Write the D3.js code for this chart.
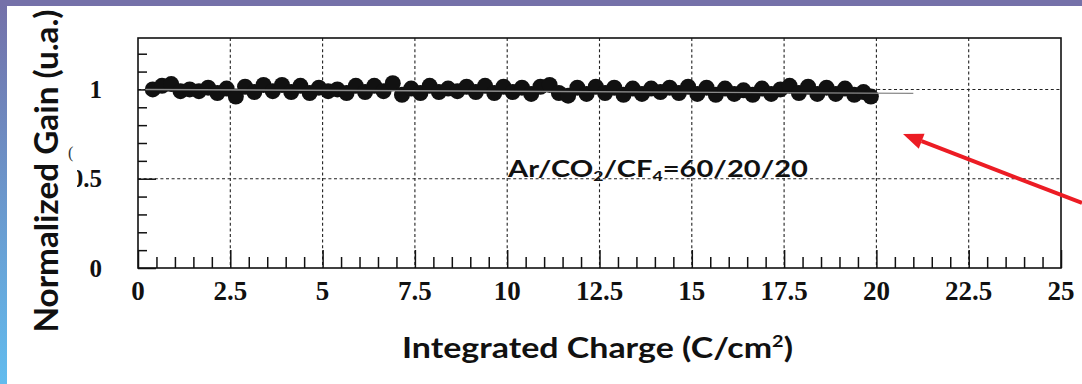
<!DOCTYPE html>
<html>
<head>
<meta charset="utf-8">
<script src="https://cdn.jsdelivr.net/npm/d3@7"></script>
<style>
  html, body { margin: 0; padding: 0; background: #fff; }
  svg { display: block; }
</style>
</head>
<body>
<svg id="chart" width="1082" height="384"></svg>
<script>
// Gain stability vs. accumulated charge, Ar/CO2/CF4 = 60/20/20
const charge = [0.4,0.65,0.9,1.15,1.4,1.65,1.9,2.15,2.4,2.65,2.9,3.15,3.4,3.65,3.9,4.15,4.4,4.65,4.9,5.15,
  5.4,5.65,5.9,6.15,6.4,6.65,6.9,7.15,7.4,7.65,7.9,8.15,8.4,8.65,8.9,9.15,9.4,9.65,9.9,10.15,
  10.4,10.65,10.9,11.15,11.4,11.65,11.9,12.15,12.4,12.65,12.9,13.15,13.4,13.65,13.9,14.15,14.4,14.65,14.9,15.15,
  15.4,15.65,15.9,16.15,16.4,16.65,16.9,17.15,17.4,17.65,17.9,18.15,18.4,18.65,18.9,19.15,19.4,19.65,19.85];
const gain = [1.00,1.02,1.03,0.99,1.00,0.99,1.01,0.98,1.005,0.96,1.015,0.985,1.025,0.99,1.025,0.985,1.02,0.98,1.01,0.99,
  1.00,0.98,1.02,0.985,1.02,0.99,1.035,0.97,1.005,0.98,1.02,0.985,1.005,0.99,1.015,0.985,1.02,0.98,1.015,0.985,
  1.01,0.975,1.015,1.025,0.98,0.965,1.01,0.975,1.015,0.98,1.01,0.97,1.005,0.975,1.005,0.985,1.01,0.98,1.015,0.975,
  1.01,0.97,1.005,0.975,0.995,0.97,1.005,0.975,1.00,1.02,0.98,1.015,0.975,1.01,0.975,1.005,0.97,0.985,0.96];

// linear fit drawn across the data
const fitX = [0.2, 21.0];
const fitY = [1.0, 0.978];

const xMajorTicks = [0, 2.5, 5, 7.5, 10, 12.5, 15, 17.5, 20, 22.5, 25];
const xTickLabels = ["0","2.5","5","7.5","10","12.5","15","17.5","20","22.5","25"];
const yMajorTicks = [0, 0.5, 1];
const yTickLabels = ["0","0.5","1"];
const yMinorTicks = [0.1,0.2,0.3,0.4,0.6,0.7,0.8,0.9,1.1,1.2];
const xMinorTicks = [0.5,1,1.5,2,3,3.5,4,4.5,5.5,6,6.5,7,8,8.5,9,9.5,10.5,11,11.5,12,13,13.5,14,14.5,
  15.5,16,16.5,17,18,18.5,19,19.5,20.5,21,21.5,22,23,23.5,24,24.5];

const svg = d3.select("#chart");
const W = 1082, H = 384;

// slide-style backdrop
const defs = svg.append("defs");
const grad = defs.append("linearGradient").attr("id", "sideband")
  .attr("x1", 0).attr("y1", 0).attr("x2", 0).attr("y2", 1);
grad.append("stop").attr("offset", "0%").attr("stop-color", "#7470a8");
grad.append("stop").attr("offset", "100%").attr("stop-color", "#62bcee");
svg.append("rect").attr("x", 0).attr("y", 0).attr("width", W).attr("height", H).attr("fill", "#fff");
svg.append("rect").attr("x", 0).attr("y", 0).attr("width", 7).attr("height", H).attr("fill", "url(#sideband)");
svg.append("rect").attr("x", 0).attr("y", 0).attr("width", W).attr("height", 6).attr("fill", "#7571a9");

const plotL = 138, plotR = 1061, plotT = 38, plotB = 268;
const x = d3.scaleLinear().domain([0, 25]).range([plotL, plotR]);
const y = d3.scaleLinear().domain([0, 1.288]).range([plotB, plotT]);

// dashed grid at major ticks
const grid = svg.append("g").attr("stroke", "#222").attr("stroke-width", 1.1).attr("stroke-dasharray", "3,2.6");
grid.selectAll(".gx").data(xMajorTicks.filter(d => d > 0 && d < 25)).join("line").attr("class", "gx")
  .attr("x1", d => x(d)).attr("x2", d => x(d)).attr("y1", plotT).attr("y2", plotB);
grid.selectAll(".gy").data(yMajorTicks.filter(d => d > 0)).join("line").attr("class", "gy")
  .attr("x1", plotL).attr("x2", plotR).attr("y1", d => y(d)).attr("y2", d => y(d));

// axes drawn with d3 axis generators, tick marks pointing into the frame
const xMajor = d3.axisTop(x).tickValues(xMajorTicks).tickSize(18).tickFormat("");
const xMinor = d3.axisTop(x).tickValues(xMinorTicks).tickSize(11).tickFormat("");
const yMajor = d3.axisRight(y).tickValues(yMajorTicks).tickSize(18).tickFormat("");
const yMinor = d3.axisRight(y).tickValues(yMinorTicks).tickSize(9).tickFormat("");
[[xMajor, `translate(0,${plotB})`], [xMinor, `translate(0,${plotB})`],
 [yMajor, `translate(${plotL},0)`], [yMinor, `translate(${plotL},0)`]].forEach(([a, t]) => {
  const g = svg.append("g").attr("transform", t).call(a);
  g.select(".domain").remove();
  g.selectAll("line").attr("stroke", "#111").attr("stroke-width", 1.5);
});

// frame
svg.append("rect").attr("x", plotL).attr("y", plotT).attr("width", plotR - plotL).attr("height", plotB - plotT)
  .attr("fill", "none").attr("stroke", "#111").attr("stroke-width", 1.6);

// tick labels
svg.append("g").selectAll("text").data(xMajorTicks).join("text")
  .attr("x", d => x(d)).attr("y", 300)
  .attr("text-anchor", "middle")
  .attr("font-family", "'Liberation Serif', 'Times New Roman', serif")
  .attr("font-weight", "bold").attr("font-size", 27).attr("fill", "#111")
  .text((d, i) => xTickLabels[i]);
svg.append("g").selectAll("text").data(yMajorTicks).join("text")
  .attr("x", 102).attr("y", d => y(d) + 8.5)
  .attr("text-anchor", "end")
  .attr("font-family", "'Liberation Serif', 'Times New Roman', serif")
  .attr("font-weight", "bold").attr("font-size", 25).attr("fill", "#111")
  .text((d, i) => yTickLabels[i]);

// data markers
svg.append("g").selectAll("circle").data(charge).join("circle")
  .attr("cx", d => x(d)).attr("cy", (d, i) => y(gain[i]))
  .attr("r", 8).attr("fill", "#111");

// fit line
svg.append("line")
  .attr("x1", x(fitX[0])).attr("y1", y(fitY[0]))
  .attr("x2", x(fitX[1])).attr("y2", y(fitY[1]))
  .attr("stroke", "#8a8a8a").attr("stroke-width", 1.4);

// gas mixture annotation
const ann = svg.append("text").attr("x", 508).attr("y", 177)
  .attr("font-family", "Lato, 'DejaVu Sans', sans-serif").attr("font-weight", "bold")
  .attr("font-size", 23).attr("fill", "#111")
  .attr("textLength", 300).attr("lengthAdjust", "spacingAndGlyphs");
ann.append("tspan").text("Ar/CO");
ann.append("tspan").attr("font-size", 14).attr("dy", 4).text("2");
ann.append("tspan").attr("dy", -4).text("/CF");
ann.append("tspan").attr("font-size", 14).attr("dy", 4).text("4");
ann.append("tspan").attr("dy", -4).text("=60/20/20");

// axis titles
svg.append("rect").attr("x", 26).attr("y", 163).attr("width", 51).attr("height", 31).attr("fill", "#fff");
svg.append("text").attr("x", 68).attr("y", 158)
  .attr("font-family", "'Liberation Serif', serif").attr("font-size", 16).attr("fill", "#333").text("(");
svg.append("text")
  .attr("transform", "translate(58,171) rotate(-90)")
  .attr("text-anchor", "middle")
  .attr("font-family", "Lato, 'DejaVu Sans', sans-serif").attr("font-weight", "bold")
  .attr("font-size", 33).attr("fill", "#111")
  .attr("textLength", 323).attr("lengthAdjust", "spacingAndGlyphs")
  .text("Normalized Gain (u.a.)");

const xt = svg.append("text").attr("x", 402).attr("y", 358)
  .attr("font-family", "Lato, 'DejaVu Sans', sans-serif").attr("font-weight", "bold")
  .attr("font-size", 29).attr("fill", "#111")
  .attr("textLength", 391).attr("lengthAdjust", "spacingAndGlyphs");
xt.append("tspan").text("Integrated Charge (C/cm");
xt.append("tspan").attr("font-size", 17).attr("dy", -11).text("2");
xt.append("tspan").attr("dy", 11).text(")");

// red pointer arrow
const tip = [903, 134], tail = [1082, 203];
const ang = Math.atan2(tail[1] - tip[1], tail[0] - tip[0]);
const hl = 20, hw = 8;
const bx = tip[0] + hl * Math.cos(ang), by = tip[1] + hl * Math.sin(ang);
svg.append("line").attr("x1", bx).attr("y1", by).attr("x2", tail[0]).attr("y2", tail[1])
  .attr("stroke", "#ec1c24").attr("stroke-width", 4);
svg.append("path")
  .attr("d", `M${tip[0]},${tip[1]} L${bx - hw * Math.sin(ang)},${by + hw * Math.cos(ang)} L${bx + hw * Math.sin(ang)},${by - hw * Math.cos(ang)} Z`)
  .attr("fill", "#ec1c24");
</script>
</body>
</html>
